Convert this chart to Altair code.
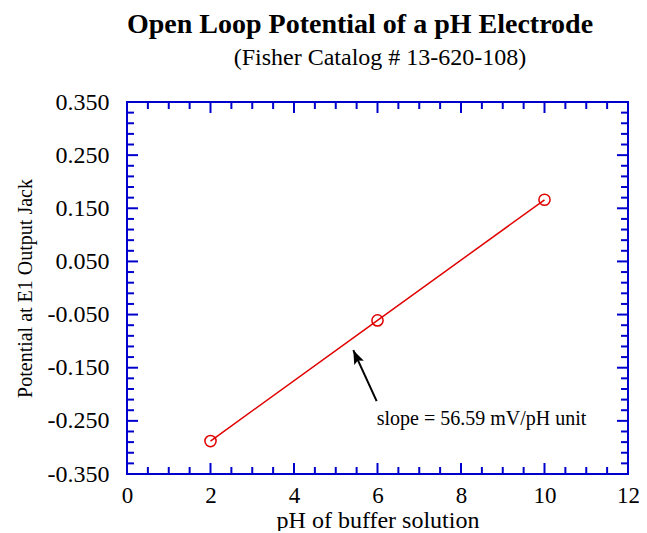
import altair as alt
import pandas as pd

# data
ph = [2, 6, 10]
potential = [-0.288, -0.061, 0.166]

x_major = [0, 2, 4, 6, 8, 10, 12]
x_minor = [v / 2 for v in range(0, 25) if v % 4 != 0]
y_major = [-0.35, -0.25, -0.15, -0.05, 0.05, 0.15, 0.25, 0.35]
y_minor = [round(-0.35 + 0.02 * i, 2) for i in range(0, 36) if i % 5 != 0]

title_text = "Open Loop Potential of a pH Electrode"
subtitle_text = "(Fisher Catalog # 13-620-108)"
x_title = "pH of buffer solution"
y_title = "Potential at E1 Output Jack"
note_text = "slope = 56.59 mV/pH unit"
note_pos = [5.98, -0.258]
arrow_head = [5.42, -0.117]
arrow_tail = [5.98, -0.213]

W, H = 501, 372
FONT = "Liberation Serif"
BLUE = "#0000cc"
RED = "#e00000"

xs = alt.Scale(domain=[0, 12], nice=False, zero=False)
ys = alt.Scale(domain=[-0.35, 0.35], nice=False, zero=False)

xaxis = alt.Axis(values=x_major, title=x_title, ticks=False, domain=False, grid=False,
                 labelFont=FONT, labelFontSize=23, labelColor="black", labelPadding=10,
                 titleFont=FONT, titleFontSize=24, titleFontWeight="normal",
                 titleColor="black", titlePadding=1, labelFlush=False)
yaxis = alt.Axis(values=y_major, title=y_title, ticks=False, domain=False, grid=False,
                 labelExpr="(datum.value < 0 ? '-' : '') + format(abs(datum.value), '.3f')",
                 labelFont=FONT, labelFontSize=24, labelColor="black", labelPadding=18,
                 titleFont=FONT, titleFontSize=20, titleFontWeight="normal",
                 titleColor="black", titlePadding=12, labelFlush=False)

def X(f):
    return alt.X(f, scale=xs, axis=xaxis)

def Y(f):
    return alt.Y(f, scale=ys, axis=yaxis)

df = pd.DataFrame({"ph": ph, "pot": potential})

base = alt.Chart(df)
line = base.mark_line(color=RED, strokeWidth=1.5).encode(x=X("ph:Q"), y=Y("pot:Q"))
points = base.mark_point(shape="circle", filled=False, color=RED, size=125,
                         strokeWidth=1.5, opacity=1).encode(x=X("ph:Q"), y=Y("pot:Q"))

layers = [line, points]

def xticks(vals, length):
    d = alt.Chart(pd.DataFrame({"v": vals}))
    b = d.mark_rule(color=BLUE, strokeWidth=2).encode(
        x=X("v:Q"), y=alt.value(H), y2=alt.value(H - length))
    t = d.mark_rule(color=BLUE, strokeWidth=2).encode(
        x=X("v:Q"), y=alt.value(0), y2=alt.value(length))
    return [b, t]

def yticks(vals, length):
    d = alt.Chart(pd.DataFrame({"v": vals}))
    l = d.mark_rule(color=BLUE, strokeWidth=2).encode(
        y=Y("v:Q"), x=alt.value(0), x2=alt.value(length))
    r = d.mark_rule(color=BLUE, strokeWidth=2).encode(
        y=Y("v:Q"), x=alt.value(W), x2=alt.value(W - length))
    return [l, r]

layers += xticks(x_major, 11) + xticks(x_minor, 7) + yticks(y_major, 11) + yticks(y_minor, 7)

note = alt.Chart(pd.DataFrame({"x": [note_pos[0]], "y": [note_pos[1]], "t": [note_text]})).mark_text(
    font=FONT, fontSize=20, align="left", baseline="alphabetic", color="black").encode(
    x=X("x:Q"), y=Y("y:Q"), text="t:N")

arrow_df = pd.DataFrame({"x": [arrow_tail[0]], "y": [arrow_tail[1]],
                         "x2": [arrow_head[0]], "y2": [arrow_head[1]]})
shaft = alt.Chart(arrow_df).mark_rule(color="black", strokeWidth=2).encode(
    x=X("x:Q"), y=Y("y:Q"), x2="x2:Q", y2="y2:Q")
head = alt.Chart(arrow_df).mark_point(
    shape="M0,0L-0.75,2L0,1.6L0.75,2Z", filled=True, color="black", size=196, angle=335.7,
    opacity=1, strokeWidth=0).encode(x=X("x2:Q"), y=Y("y2:Q"))

titles = alt.Chart(pd.DataFrame({"t": [title_text]})).mark_text(
    font=FONT, fontSize=28, fontWeight="bold", align="center", baseline="alphabetic", color="black").encode(
    x=alt.value(233), y=alt.value(-69), text="t:N")
subtitles = alt.Chart(pd.DataFrame({"t": [subtitle_text]})).mark_text(
    font=FONT, fontSize=24, align="center", baseline="alphabetic", color="black").encode(
    x=alt.value(253), y=alt.value(-37), text="t:N")

layers += [note, shaft, head, titles, subtitles]

chart = alt.layer(*layers).properties(
    width=W, height=H,
    autosize=alt.AutoSizeParams(type="none"),
    padding={"left": 119, "top": 94, "right": 11, "bottom": 57},
    background="white",
).configure_view(stroke=BLUE, strokeWidth=2, fill="white")

chart.save("out.html", embed_options={"renderer": "svg", "actions": False})
